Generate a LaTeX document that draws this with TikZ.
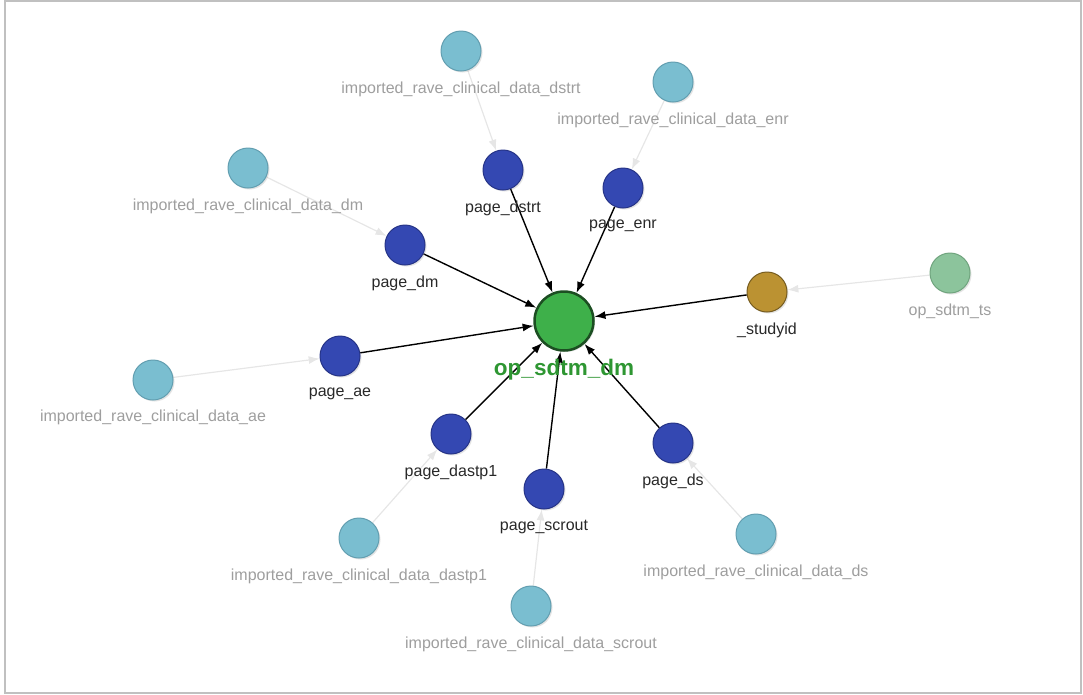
\documentclass[tikz,border=0pt]{standalone}
\usepackage{fontspec}
\setmainfont{Liberation Sans}
\usetikzlibrary{arrows.meta,shadows,backgrounds}
\definecolor{pagefill}{RGB}{52,72,178}
\definecolor{pagedraw}{RGB}{38,52,135}
\definecolor{impfill}{RGB}{122,190,208}
\definecolor{impdraw}{RGB}{98,158,176}
\definecolor{mainfill}{RGB}{62,176,74}
\definecolor{maindraw}{RGB}{28,78,34}
\definecolor{mainlbl}{RGB}{46,150,50}
\definecolor{sidfill}{RGB}{187,146,50}
\definecolor{siddraw}{RGB}{118,92,32}
\definecolor{tsfill}{RGB}{140,196,156}
\definecolor{tsdraw}{RGB}{112,164,126}
\definecolor{darklbl}{RGB}{40,40,40}
\definecolor{lightlbl}{RGB}{158,158,158}
\definecolor{lightedge}{RGB}{230,230,230}
\definecolor{frame}{RGB}{192,192,192}
\tikzset{
  shad/.style={drop shadow={opacity=0.22,shadow xshift=1.5pt,shadow yshift=-1.5pt}},
  pagenode/.style={circle,shad,fill=pagefill,draw=pagedraw,line width=1pt,minimum size=40pt,inner sep=0pt},
  impnode/.style={circle,shad,fill=impfill,draw=impdraw,line width=1pt,minimum size=40pt,inner sep=0pt},
  mainnode/.style={circle,shad,fill=mainfill,draw=maindraw,line width=2.5pt,minimum size=59pt,inner sep=0pt},
  sidnode/.style={circle,shad,fill=sidfill,draw=siddraw,line width=1pt,minimum size=40pt,inner sep=0pt},
  tsnode/.style={circle,shad,fill=tsfill,draw=tsdraw,line width=1pt,minimum size=40pt,inner sep=0pt},
  dlbl/.style={text=darklbl,font=\fontsize{16}{19}\selectfont,inner sep=0pt},
  llbl/.style={text=lightlbl,font=\fontsize{16}{19}\selectfont,inner sep=0pt},
  mlbl/.style={text=mainlbl,font=\fontsize{22.5}{26}\selectfont\bfseries,inner sep=0pt},
  darkedge/.style={draw=black,line width=1.4pt,-{Latex[length=11pt,width=8pt]}},
  lightedgestyle/.style={draw=lightedge,line width=1.2pt,-{Latex[length=11pt,width=8pt]}},
}
\begin{document}
\begin{tikzpicture}[x=1pt,y=-1pt]
\useasboundingbox (0,0) rectangle (1083,694);
\draw[frame,line width=2pt] (5,1) rectangle (1081,693);

% nodes
\node[mainnode] (G) at (564,321) {};
\node[pagenode] (pdstrt) at (503,170) {};
\node[pagenode] (penr) at (623,188) {};
\node[pagenode] (pdm) at (405,245) {};
\node[pagenode] (pae) at (340,356) {};
\node[pagenode] (pdastp1) at (451,434) {};
\node[pagenode] (pscrout) at (544,489) {};
\node[pagenode] (pds) at (673,443) {};
\node[sidnode] (sid) at (767,292) {};
\node[tsnode] (ts) at (950,273) {};
\node[impnode] (idstrt) at (461,51) {};
\node[impnode] (ienr) at (673,82) {};
\node[impnode] (idm) at (248,168) {};
\node[impnode] (iae) at (153,380) {};
\node[impnode] (idastp1) at (359,538) {};
\node[impnode] (iscrout) at (531,606) {};
\node[impnode] (ids) at (756,534) {};

% labels
\path (G) ++(0,49) node[mlbl] (G-l) {op\_sdtm\_dm};
\path (pdstrt) ++(0,38) node[dlbl] (pdstrt-l) {page\_dstrt};
\path (penr) ++(0,38) node[dlbl] (penr-l) {page\_enr};
\path (pdm) ++(0,38) node[dlbl] (pdm-l) {page\_dm};
\path (pae) ++(0,38) node[dlbl] (pae-l) {page\_ae};
\path (pdastp1) ++(0,38) node[dlbl] (pdastp1-l) {page\_dastp1};
\path (pscrout) ++(0,38) node[dlbl] (pscrout-l) {page\_scrout};
\path (pds) ++(0,38) node[dlbl] (pds-l) {page\_ds};
\path (sid) ++(0,38) node[dlbl] (sid-l) {\_studyid};
\path (ts) ++(0,38) node[llbl] (ts-l) {op\_sdtm\_ts};
\path (idstrt) ++(0,38) node[llbl] (idstrt-l) {imported\_rave\_clinical\_data\_dstrt};
\path (ienr) ++(0,38) node[llbl] (ienr-l) {imported\_rave\_clinical\_data\_enr};
\path (idm) ++(0,38) node[llbl] (idm-l) {imported\_rave\_clinical\_data\_dm};
\path (iae) ++(0,37) node[llbl] (iae-l) {imported\_rave\_clinical\_data\_ae};
\path (idastp1) ++(0,38) node[llbl] (idastp1-l) {imported\_rave\_clinical\_data\_dastp1};
\path (iscrout) ++(0,38) node[llbl] (iscrout-l) {imported\_rave\_clinical\_data\_scrout};
\path (ids) ++(0,38) node[llbl] (ids-l) {imported\_rave\_clinical\_data\_ds};

\begin{pgfonlayer}{background}
% light edges
\draw[lightedgestyle] (idstrt) -- (pdstrt);
\draw[lightedgestyle] (ienr) -- (penr);
\draw[lightedgestyle] (idm) -- (pdm);
\draw[lightedgestyle] (iae) -- (pae);
\draw[lightedgestyle] (idastp1) -- (pdastp1);
\draw[lightedgestyle] (iscrout) -- (pscrout);
\draw[lightedgestyle] (ids) -- (pds);
\draw[lightedgestyle] (ts) -- (sid);

% dark edges
\draw[darkedge] (pdstrt) -- (G);
\draw[darkedge] (penr) -- (G);
\draw[darkedge] (pdm) -- (G);
\draw[darkedge] (pae) -- (G);
\draw[darkedge] (pdastp1) -- (G);
\draw[darkedge] (pscrout) -- (G);
\draw[darkedge] (pds) -- (G);
\draw[darkedge] (sid) -- (G);
\end{pgfonlayer}
\end{tikzpicture}
\end{document}
